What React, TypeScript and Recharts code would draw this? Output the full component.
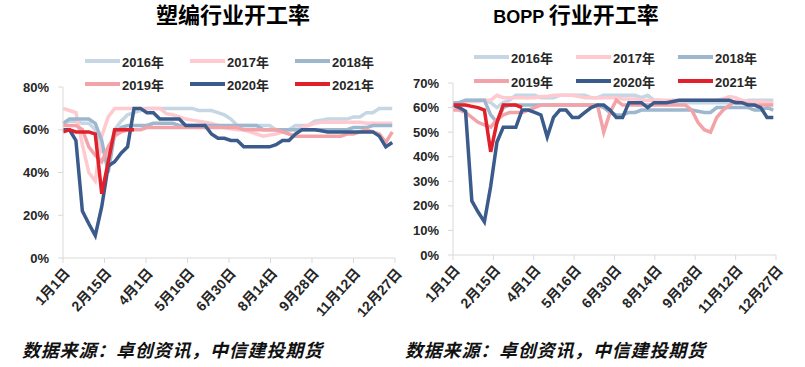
import React from "react";
import { LineChart, Line, XAxis, YAxis } from "recharts";

const FONT = '"Liberation Sans", Arial, "Noto Sans CJK SC", sans-serif';

// x axis: day of year, labelled every 45 days
const dateTicks = [0, 45, 90, 135, 180, 225, 270, 315, 360];
const dateLabels = ["1月1日", "2月15日", "4月1日", "5月16日", "6月30日", "8月14日", "9月28日", "11月12日", "12月27日"];

const years = ["2016年", "2017年", "2018年", "2019年", "2020年", "2021年"];
const colors = ["#C5D6E4", "#FFCACF", "#9DB8CE", "#F3A3A8", "#3A5B8C", "#E0202A"];

// 塑编 weekly operating rate (%)
const pw2016 = [63, 64, 64, 63, 63, 60, 50, 48, 60, 64, 67, 68, 69, 70, 70, 70, 70, 70, 70, 70, 70, 69, 69, 69, 68, 67, 65, 62, 62, 62, 62, 62, 62, 60, 60, 60, 62, 62, 62, 64, 64.5, 65, 65, 65, 65, 66, 66, 68, 68, 70, 70, 70];
const pw2017 = [70, 69, 68, 53, 40, 36, 57, 66, 70, 70, 70, 70, 70, 70, 70, 70, 67.5, 67, 66, 65, 64.5, 64, 63.5, 63, 62, 61, 60.5, 60, 60, 59, 58, 57, 57.5, 58, 59, 60, 60, 61, 62, 63, 63.5, 63.5, 63.5, 63.5, 63.5, 63.5, 63.5, 63, 63, 63, 63, 63];
const pw2018 = [63, 65, 65, 65, 65, 63, 55, 40, 58, 61, 62, 62, 62, 62, 63, 63, 63, 63, 62, 62, 62, 62, 62, 62, 62, 62, 62, 62, 62, 62, 62, 60, 60, 60, 60, 60, 60, 60, 60, 60, 60, 60, 60, 60, 60, 61, 61, 61, 62, 62, 62, 62];
const pw2019 = [62, 62, 62, 60, 52, 48, 45, 52, 57, 59, 60, 60, 60, 61, 61, 61, 61, 61, 61, 61, 61, 61, 61, 61, 61, 61, 61, 61, 60, 60, 60, 60, 60, 60, 59, 58, 57, 57, 57, 57, 57, 57, 57, 57, 58, 58, 59, 60, 59, 58, 54, 59];
const pw2020 = [60, 60, 55, 22, 16, 10.5, 24, 43, 45, 49, 52, 70, 70, 68, 68, 65, 65, 65, 65, 62, 62, 62, 62, 58, 56, 56, 55, 55, 52, 52, 52, 52, 52, 53, 55, 55, 58, 60, 60, 60, 59.5, 59, 59, 59, 59, 59, 59, 59, 59, 57, 52, 54];
const pw2021 = [59, 60, 59, 59, 59, 58, 30, 45, 60, 60, 60, 60];

// BOPP weekly operating rate (%)
const bo2016 = [62, 62, 63, 63, 63, 63, 62, 60, 62, 63, 65, 65, 65, 65, 64, 64, 64, 65, 65, 65, 65, 65, 64, 64, 65, 65, 65, 65, 65, 65, 64, 65, 63, 63, 62, 62, 62, 62, 62, 62, 62, 62, 62, 62, 62, 62, 62, 63, 63, 63, 63, 63];
const bo2017 = [62, 62, 62.5, 62.5, 62.5, 63, 63, 65, 64, 64, 64, 64, 64, 64, 64.5, 64.5, 65, 65, 65, 65, 64.5, 64, 64, 64, 64, 64, 64, 63.5, 63.5, 63.5, 63, 63, 63, 63, 63, 63, 63, 63, 63, 63, 63, 63, 63, 63.5, 64.5, 64, 63, 62.5, 62.5, 62.5, 62, 62];
const bo2018 = [62, 62, 63, 63, 63, 63, 57, 54, 60, 61, 61, 61, 61, 61, 61, 61, 61, 61, 61, 61, 61, 61, 61, 61, 60, 58, 57, 57, 58, 58, 59, 59, 59, 59, 59, 59, 59, 59, 59, 58.5, 58, 58, 60, 60, 60, 60, 60, 60, 59, 59, 60, 59];
const bo2019 = [59, 59, 58, 56, 54, 53, 52, 55, 57, 58, 58, 58, 59, 60, 61, 61, 61, 61, 61, 61, 61, 61, 61, 61, 50, 58, 63, 61, 61, 61, 61, 61, 61, 61, 61, 61, 61, 61, 59, 54, 51, 50, 56, 59, 61, 62.5, 62, 61.5, 61, 61, 61, 61];
const bo2020 = [61, 60, 58.5, 22, 17.5, 13.5, 28, 46, 52, 52, 52, 59, 59, 58, 57, 48, 56, 59, 59, 56, 56, 58, 60, 61, 61, 59, 56, 56, 62, 62, 62, 60, 62, 62, 62, 62.5, 63, 63, 63, 63, 63, 63, 63, 63, 63, 62, 62, 61, 61, 60, 56, 56];
const bo2021 = [61, 61, 61, 60.5, 60, 59, 42, 54, 61, 61, 61, 60];

const keys = ["y2016", "y2017", "y2018", "y2019", "y2020", "y2021"];

function buildRows(series: number[][]) {
  return series[0].map((_, i) => {
    const row: Record<string, number | undefined> = { day: i * 7 };
    keys.forEach((k, j) => {
      row[k] = series[j][i];
    });
    return row;
  });
}

const plasticRows = buildRows([pw2016, pw2017, pw2018, pw2019, pw2020, pw2021]);
const boppRows = buildRows([bo2016, bo2017, bo2018, bo2019, bo2020, bo2021]);

const DateTick = (props: any) => {
  const { x, y, payload } = props;
  const tx = x;
  const ty = y + 2;
  return (
    <text
      x={tx}
      y={ty}
      transform={`rotate(-48, ${tx}, ${ty})`}
      textAnchor="end"
      dominantBaseline="hanging"
      fontSize={14}
      fontWeight="bold"
      fill="#262626"
      fontFamily={FONT}
    >
      {dateLabels[dateTicks.indexOf(payload.value)]}
    </text>
  );
};

function Legend({ left, top, colWidth, rowHeight }: { left: number; top: number; colWidth: number; rowHeight: number }) {
  return (
    <div style={{ position: "absolute", left, top }}>
      {years.map((y, i) => (
        <div
          key={y}
          style={{
            position: "absolute",
            left: (i % 3) * colWidth,
            top: Math.floor(i / 3) * rowHeight,
            display: "flex",
            alignItems: "center",
            whiteSpace: "nowrap",
            height: 16,
          }}
        >
          <span style={{ display: "inline-block", width: 35, height: 4, background: colors[i], marginRight: 2 }} />
          <span style={{ fontFamily: FONT, fontWeight: "bold", fontSize: 13, color: "#262626" }}>{y}</span>
        </div>
      ))}
    </div>
  );
}

function YearChart(props: {
  rows: any[];
  width: number;
  top: number;
  right: number;
  yWidth: number;
  xHeight: number;
  yMax: number;
  yTicks: number[];
}) {
  const { rows, width, top, right, yWidth, xHeight, yMax, yTicks } = props;
  const axisColor = "#D9D9D9";
  return (
    <LineChart width={width} height={367} data={rows} margin={{ top, right, bottom: 0, left: 0 }}>
      <XAxis
        type="number"
        dataKey="day"
        domain={[0, 360]}
        ticks={dateTicks}
        interval={0}
        height={xHeight}
        tick={<DateTick />}
        tickSize={5}
        axisLine={{ stroke: axisColor }}
        tickLine={{ stroke: axisColor }}
      />
      <YAxis
        domain={[0, yMax]}
        ticks={yTicks}
        width={yWidth}
        tickFormatter={(v) => `${v}%`}
        tickSize={5}
        tickMargin={9}
        axisLine={{ stroke: axisColor }}
        tickLine={{ stroke: axisColor }}
        tick={{ fontSize: 13, fontWeight: "bold", fill: "#262626", fontFamily: FONT }}
      />
      {keys.map((k, i) => (
        <Line
          key={k}
          type="linear"
          dataKey={k}
          stroke={colors[i]}
          strokeWidth={3.5}
          dot={false}
          isAnimationActive={false}
        />
      ))}
    </LineChart>
  );
}

const sourceStyle: React.CSSProperties = {
  position: "absolute",
  top: 338,
  fontFamily: '"Noto Sans CJK SC", sans-serif',
  fontWeight: "bold",
  fontStyle: "italic",
  fontSize: 18,
  letterSpacing: 0.8,
  color: "#111",
  whiteSpace: "nowrap",
  lineHeight: "22px",
};

const titleStyle: React.CSSProperties = {
  position: "absolute",
  top: 3,
  transform: "translateX(-50%)",
  fontFamily: FONT,
  fontWeight: "bold",
  fontSize: 22,
  color: "#000",
  whiteSpace: "nowrap",
  lineHeight: "26px",
};

export default function App() {
  return (
    <div style={{ position: "absolute", left: 0, top: 0, width: 805, height: 367, background: "#fff", overflow: "hidden" }}>
      <div style={{ ...titleStyle, left: 233 }}>塑编行业开工率</div>
      <div style={{ ...titleStyle, left: 576 }}>
        <span style={{ fontSize: 18 }}>BOPP </span>行业开工率
      </div>

      <Legend left={85} top={53} colWidth={105} rowHeight={23} />
      <Legend left={474} top={49} colWidth={102} rowHeight={24} />

      <div style={{ position: "absolute", left: 0, top: 0 }}>
        <YearChart rows={plasticRows} width={415} top={87} right={20} yWidth={63} xHeight={109} yMax={80} yTicks={[0, 20, 40, 60, 80]} />
      </div>
      <div style={{ position: "absolute", left: 400, top: 0 }}>
        <YearChart rows={boppRows} width={405} top={83} right={29} yWidth={53} xHeight={112} yMax={70} yTicks={[0, 10, 20, 30, 40, 50, 60, 70]} />
      </div>

      <div style={{ ...sourceStyle, left: 22 }}>数据来源：卓创资讯，中信建投期货</div>
      <div style={{ ...sourceStyle, left: 405 }}>数据来源：卓创资讯，中信建投期货</div>
    </div>
  );
}
